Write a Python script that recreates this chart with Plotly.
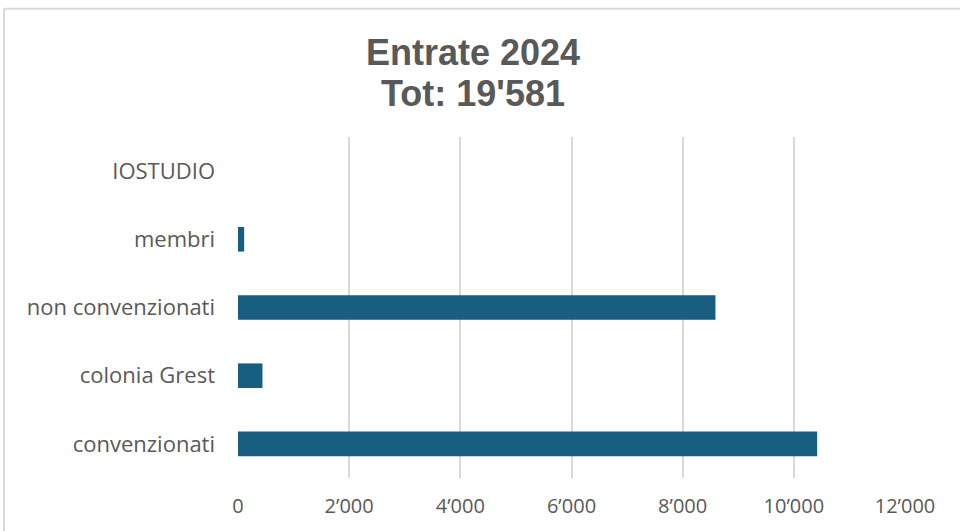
import plotly.graph_objects as go

categories = ["convenzionati", "colonia Grest", "non convenzionati", "membri", "IOSTUDIO"]
values = [10420, 440, 8590, 111, 0]
tick_vals = [0, 2000, 4000, 6000, 8000, 10000, 12000]
tick_text = ["0", "2’000", "4’000", "6’000", "8’000", "10’000", "12’000"]
title_lines = ["Entrate 2024", "Tot: 19'581"]

W, H = 960, 531
L, R, T, B = 238, 55, 137, 51
pw, ph = W - L - R, H - T - B


def px_x(x):
    return (x - L) / pw


def px_y(y):
    return (H - B - y) / ph


fig = go.Figure(go.Bar(
    x=values, y=categories, orientation="h",
    marker=dict(color="#185e80", line=dict(width=0)),
))

title_font = dict(family="Liberation Sans, Arial", size=36, color="#595959")
annotations = [
    dict(text="<b>" + title_lines[0] + "</b>", xref="paper", yref="paper",
         x=px_x(473), y=px_y(52), xanchor="center", yanchor="middle",
         showarrow=False, font=title_font),
    dict(text="<b>" + title_lines[1] + "</b>", xref="paper", yref="paper",
         x=px_x(473), y=px_y(93), xanchor="center", yanchor="middle",
         showarrow=False, font=title_font),
]

fig.update_layout(
    width=W, height=H, autosize=False,
    margin=dict(l=L, r=R, t=T, b=B),
    paper_bgcolor="white", plot_bgcolor="white",
    bargap=0.64,
    showlegend=False,
    font=dict(family="Open Sans", size=20, color="#595959"),
    xaxis=dict(range=[0, 12000], tickvals=tick_vals, ticktext=tick_text,
               showgrid=True, gridcolor="#d9d9d9", gridwidth=2,
               zeroline=False, showline=False, ticks="", ticklabelstandoff=14,
               tickfont=dict(family="Open Sans", size=20, color="#595959"), fixedrange=True),
    yaxis=dict(categoryorder="array", categoryarray=categories,
               showgrid=False, zeroline=False, showline=False, ticks="",
               ticklabelstandoff=22,
               tickfont=dict(family="Open Sans", size=22, color="#595959")),
    annotations=annotations,
    shapes=[
        dict(type="line", xref="paper", yref="paper",
             x0=px_x(4), x1=px_x(962), y0=px_y(8), y1=px_y(8),
             line=dict(color="#d9d9d9", width=2)),
        dict(type="line", xref="paper", yref="paper",
             x0=px_x(4), x1=px_x(4), y0=px_y(8), y1=px_y(540),
             line=dict(color="#d9d9d9", width=2)),
    ],
)

fig.write_html("out.html", config={"displayModeBar": False},
               post_script="document.body.style.margin='0';")
